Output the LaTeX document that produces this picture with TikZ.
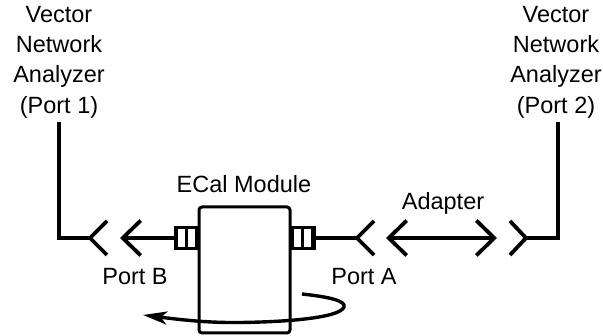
\documentclass[tikz,border=0pt]{standalone}
\usepackage{fontspec}
\setmainfont{Liberation Sans}
\usetikzlibrary{arrows.meta,positioning}

\begin{document}
\begin{tikzpicture}[
  x=1pt, y=-1pt,
  lbl/.style   = {align=center, font=\fontsize{23.5}{30.4}\selectfont, inner sep=0pt},
  wire/.style  = {line width=3.8pt, black, line cap=rect},
  fork/.style  = {line width=3.8pt, black, line join=miter},
  body/.style  = {draw, line width=3pt, rounded corners=3pt, fill=white,
                  minimum width=91pt, minimum height=126pt, inner sep=0pt},
  conn/.style  = {draw, line width=2.6pt, fill=white, minimum width=20pt,
                  minimum height=21pt, inner sep=0pt},
  stub/.style  = {draw, line width=1.6pt, fill=white, minimum width=3pt,
                  minimum height=12pt, inner sep=0pt},
  arr/.style   = {-{Straight Barb[length=18pt, width=35pt, line width=3.8pt]}, wire},
  darr/.style  = {{Straight Barb[length=18pt, width=35pt, line width=3.8pt]}-{Straight Barb[length=18pt, width=35pt, line width=3.8pt]}, wire},
  turn/.style  = {-{Stealth[length=24pt, width=13pt, inset=6pt]}, line width=3.4pt, black},
]
\useasboundingbox (0,0) rectangle (603,336);

%% -- Labels ---------------------------------------------------------------
\node[lbl] (VNA1) at (59, 62)  {Vector\\Network\\Analyzer\\(Port 1)};
\node[lbl] (VNA2) at (556, 62) {Vector\\Network\\Analyzer\\(Port 2)};
\node[lbl] (ecal) at (244, 184) {ECal Module};
\node[lbl] (adapter) at (443, 203) {Adapter};
\node[lbl] (portB) at (135, 277) {Port B};
\node[lbl] (portA) at (364, 277) {Port A};

%% -- Module and connectors ------------------------------------------------
\node[body] (module) at (244.5, 270) {};
\node[stub] (stubB) at (197.5, 238) {};
\node[stub] (stubA) at (291.5, 238) {};
\node[conn] (connB) at (186.5, 238) {};
\node[conn] (connA) at (302.5, 238) {};
\draw[line width=2.4pt] (connB.north)--(connB.south) (connA.north)--(connA.south);
\draw[line width=3.4pt] (connB.north west)--(connB.south west)
                        (connA.north east)--(connA.south east);

%% -- Ports ----------------------------------------------------------------
\coordinate (L0) at (59, 124);
\coordinate (L1) at (59, 238);
\coordinate (L2) at (90, 238);
\coordinate (L3) at (107, 221);
\coordinate (L4) at (107, 255);
\coordinate (B0) at (120, 238);
\coordinate (A0) at (357, 238);
\coordinate (A1) at (374, 221);
\coordinate (A2) at (374, 255);
\coordinate (D0) at (386, 238);
\coordinate (D1) at (497, 238);
\coordinate (R0) at (558, 124);
\coordinate (R1) at (558, 238);
\coordinate (R2) at (526, 238);
\coordinate (R3) at (510, 221);
\coordinate (R4) at (510, 255);

\draw[wire] (L0)--(L1)--(L2);
\draw[fork] (L3)--(L2)--(L4);
\draw[arr] (connB.west)--(B0);
\draw[wire] (connA.east)--(A0);
\draw[fork] (A1)--(A0)--(A2);
\draw[darr] (D0)--(D1);
\draw[wire] (R0)--(R1)--(R2);
\draw[fork] (R3)--(R2)--(R4);

%% -- Turning arrow --------------------------------------------------------
\coordinate (T0) at (302, 294);
\coordinate (T1) at (143, 315);
\draw[turn] (T0) .. controls (330,297) and (346,301) .. (344,307)
  .. controls (340,318) and (285,322) .. (240,322.5)
  .. controls (205,323) and (175,319) .. (T1);

\end{tikzpicture}
\end{document}
